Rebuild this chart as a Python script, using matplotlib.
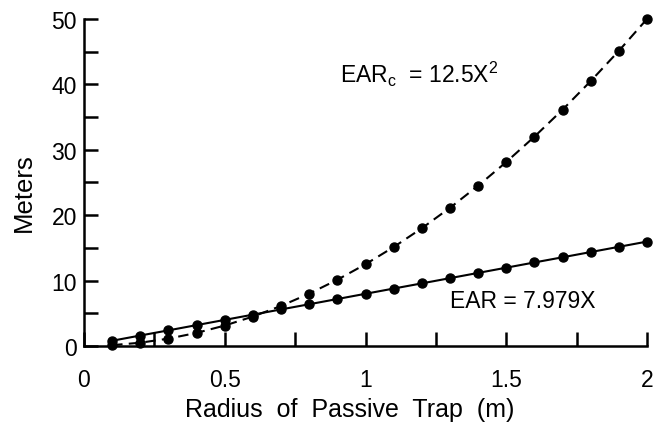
import matplotlib
matplotlib.use("Agg")
import matplotlib.pyplot as plt
from matplotlib.ticker import MultipleLocator, FormatStrFormatter

plt.rcParams["font.family"] = ["Liberation Sans", "DejaVu Sans"]
plt.rcParams["mathtext.fontset"] = "custom"
plt.rcParams["mathtext.rm"] = "Liberation Sans"

# radius of passive trap (m)
radius = [0.1, 0.2, 0.3, 0.4, 0.5, 0.6, 0.7, 0.8, 0.9, 1.0,
          1.1, 1.2, 1.3, 1.4, 1.5, 1.6, 1.7, 1.8, 1.9, 2.0]
# EAR = 7.979X
ear = [0.80, 1.60, 2.39, 3.19, 3.99, 4.79, 5.59, 6.38, 7.18, 7.98,
       8.78, 9.57, 10.37, 11.17, 11.97, 12.77, 13.56, 14.36, 15.16, 15.96]
# EARc = 12.5X^2
ear_c = [0.125, 0.5, 1.125, 2.0, 3.125, 4.5, 6.125, 8.0, 10.125, 12.5,
         15.125, 18.0, 21.125, 24.5, 28.125, 32.0, 36.125, 40.5, 45.125, 50.0]

fig = plt.figure(figsize=(6.64, 4.27), dpi=100)
ax = fig.add_axes([0.1265, 0.1874, 0.848, 0.766])

ax.plot(radius, ear_c, color="black", lw=1.5, ls=(0, (5, 3)), marker="o",
        ms=6.5, clip_on=False, zorder=3)
ax.plot(radius, ear, color="black", lw=1.5, ls="-", marker="o",
        ms=6.5, clip_on=False, zorder=3)

ax.set_xlim(0, 2)
ax.set_ylim(0, 50)
ax.xaxis.set_major_locator(MultipleLocator(0.5))
ax.xaxis.set_minor_locator(MultipleLocator(0.25))
ax.yaxis.set_major_locator(MultipleLocator(10))
ax.yaxis.set_minor_locator(MultipleLocator(5))
ax.xaxis.set_major_formatter(FormatStrFormatter("%g"))

for side in ("top", "right"):
    ax.spines[side].set_visible(False)
for side in ("left", "bottom"):
    ax.spines[side].set_linewidth(1.8)

ax.tick_params(which="both", direction="in", width=1.8, labelsize=16.5,
               colors="black")
ax.tick_params(which="major", length=10)
ax.tick_params(which="minor", length=10)
ax.tick_params(axis="x", which="major", pad=16)
ax.tick_params(axis="y", which="major", pad=5)

ax.set_xlabel("Radius  of  Passive  Trap  (m)", fontsize=18, va="center")
ax.set_ylabel("Meters", fontsize=18.5, va="center")
ax.xaxis.set_label_coords(0.472, -0.193)
ax.yaxis.set_label_coords(-0.107, 0.471)

ax.text(0.91, 41.6, r"EAR$_\mathregular{c}$  = 12.5X$^\mathregular{2}$",
        fontsize=16.5, ha="left", va="center")
ax.text(1.30, 6.9, "EAR = 7.979X", fontsize=16.5, ha="left", va="center")

fig.savefig("out.png", dpi=100)
